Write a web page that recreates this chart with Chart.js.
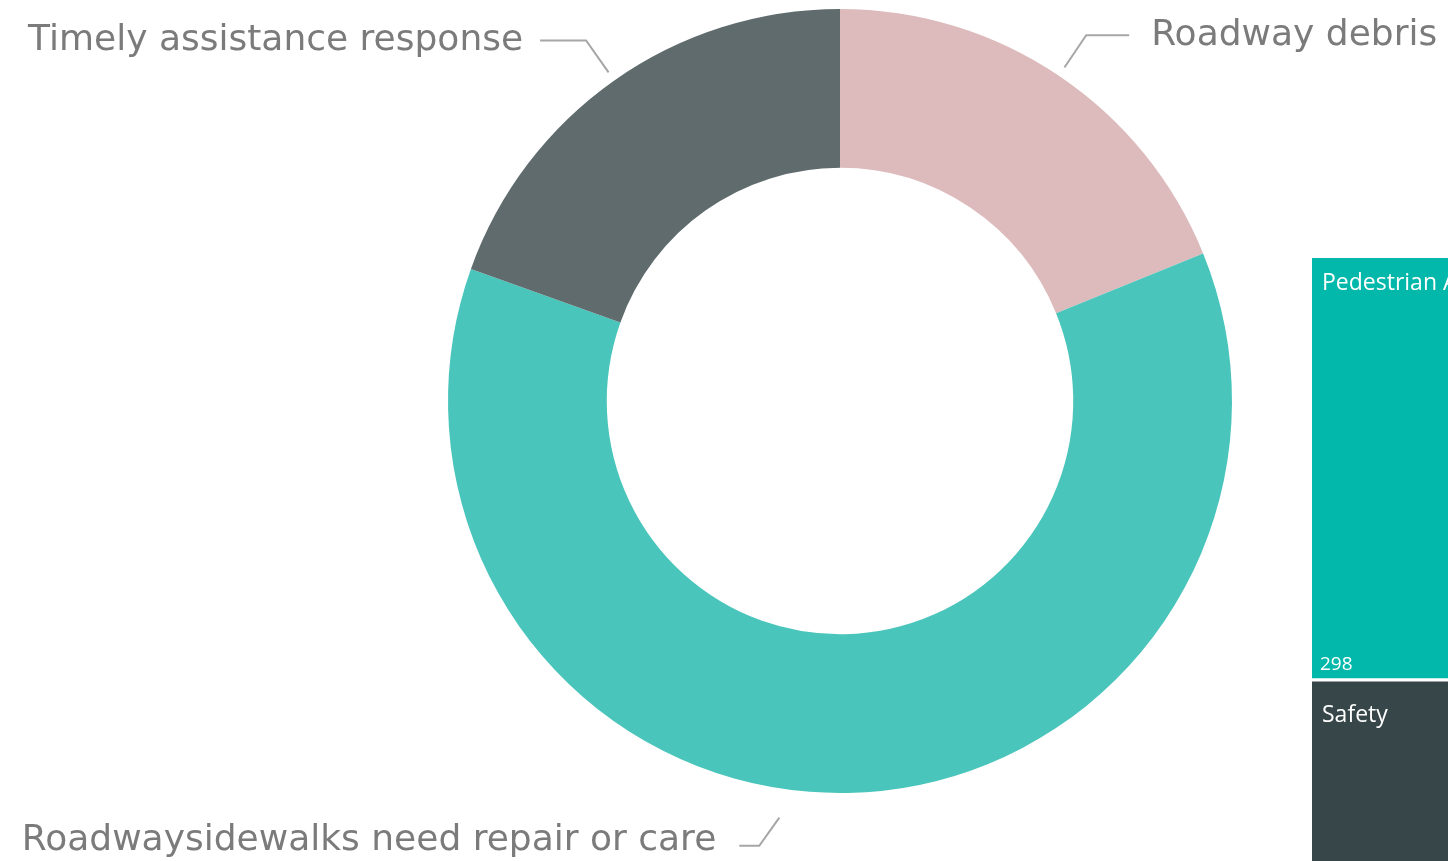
<!DOCTYPE html>
<html>
<head>
<meta charset="utf-8">
<script src="https://cdn.jsdelivr.net/npm/chart.js@4/dist/chart.umd.min.js"></script>
<style>
  body { margin: 0; background: #fff; overflow: hidden; }
  #wrap { position: relative; width: 1448px; height: 861px; }
  #donut { position: absolute; left: 0; top: 0; }
  #tree { position: absolute; left: 1312px; top: 258px; }
</style>
</head>
<body>
<div id="wrap">
  <canvas id="donut" width="1448" height="861"></canvas>
  <canvas id="tree" width="136" height="603"></canvas>
</div>
<script>
// donut data
const categories = ['Roadway debris', 'Roadwaysidewalks need repair or care', 'Timely assistance response'];
const counts = [56, 183, 58];
const sliceColors = ['#DDBBBD', '#4AC5BB', '#5F6B6C'];

// treemap (cut off at the right edge)
const treeCategories = ['Pedestrian Access', 'Safety'];
const treeValues = [298, 240];
const treeColors = ['#01B8AA', '#374649'];

// leader line shapes per slice: angle shifts (deg), radii past the ring, horizontal run, text gap
const leaders = [
  { shift1: 0, shift2: 0, r1: 10, r2: 49, h: 43, gap: 22, dy: 10 },
  { shift1: 9.5, shift2: 11.5, r1: 29, r2: 60, h: -20, gap: 23, dy: 4 },
  { shift1: 0, shift2: 0, r1: 10, r2: 49, h: -46, gap: 17, dy: 10 }
];

const leaderPlugin = {
  id: 'leaders',
  afterDatasetsDraw(chart) {
    const ctx = chart.ctx;
    const arcs = chart.getDatasetMeta(0).data;
    ctx.save();
    arcs.forEach((arc, i) => {
      const L = leaders[i];
      const mid = (arc.startAngle + arc.endAngle) / 2;
      const R = arc.outerRadius;
      const a1 = mid + L.shift1 * Math.PI / 180;
      const a2 = mid + L.shift2 * Math.PI / 180;
      const x1 = arc.x + Math.cos(a1) * (R + L.r1), y1 = arc.y + Math.sin(a1) * (R + L.r1);
      const x2 = arc.x + Math.cos(a2) * (R + L.r2), y2 = arc.y + Math.sin(a2) * (R + L.r2);
      const x3 = x2 + L.h;

      ctx.strokeStyle = '#a6a6a6';
      ctx.lineWidth = 2;
      ctx.beginPath();
      ctx.moveTo(x1, y1);
      ctx.lineTo(x2, y2);
      ctx.lineTo(x3, y2);
      ctx.stroke();

      ctx.fillStyle = '#7b7b7b';
      ctx.font = '36px "DejaVu Sans"';
      ctx.textBaseline = 'alphabetic';
      ctx.textAlign = L.h > 0 ? 'left' : 'right';
      ctx.fillText(categories[i], x3 + Math.sign(L.h) * L.gap, y2 + L.dy);
    });
    ctx.restore();
  }
};

new Chart(document.getElementById('donut'), {
  type: 'doughnut',
  data: {
    labels: categories,
    datasets: [{
      data: counts,
      backgroundColor: sliceColors,
      borderWidth: 0
    }]
  },
  options: {
    responsive: false,
    animation: false,
    cutout: '59.5%',
    layout: { padding: { left: 448, right: 216, top: 9, bottom: 68 } },
    plugins: {
      legend: { display: false },
      tooltip: { enabled: false }
    }
  },
  plugins: [leaderPlugin]
});

const treeLabels = {
  id: 'treeLabels',
  afterDatasetsDraw(chart) {
    const ctx = chart.ctx;
    ctx.save();
    ctx.fillStyle = '#ffffff';
    ctx.textAlign = 'left';
    chart.data.datasets.forEach((ds, i) => {
      const bar = chart.getDatasetMeta(i).data[0];
      const top = Math.min(bar.y, bar.base);
      const bottom = Math.max(bar.y, bar.base);
      const left = bar.x - bar.width / 2;
      ctx.font = '23px "Open Sans"';
      ctx.textBaseline = 'alphabetic';
      ctx.fillText(ds.label, left + 10, top + (i === 0 ? 32 : 44));
      ctx.font = '19px "Open Sans"';
      ctx.fillText(String(ds.data[0]), left + 8, bottom - 8);
    });
    ctx.restore();
  }
};

new Chart(document.getElementById('tree'), {
  type: 'bar',
  data: {
    labels: [''],
    datasets: treeCategories.map((name, i) => ({
      label: name,
      data: [treeValues[i]],
      backgroundColor: treeColors[i],
      borderColor: '#ffffff',
      borderWidth: i === 0 ? 0 : { top: 4, right: 0, bottom: 0, left: 0 },
      borderSkipped: false,
      barPercentage: 1,
      categoryPercentage: 1
    }))
  },
  options: {
    responsive: false,
    animation: false,
    layout: { padding: 0 },
    scales: {
      x: { display: false, stacked: true },
      y: { display: false, stacked: true, reverse: true, min: 0, max: 428 }
    },
    plugins: {
      legend: { display: false },
      tooltip: { enabled: false }
    }
  },
  plugins: [treeLabels]
});
</script>
</body>
</html>
